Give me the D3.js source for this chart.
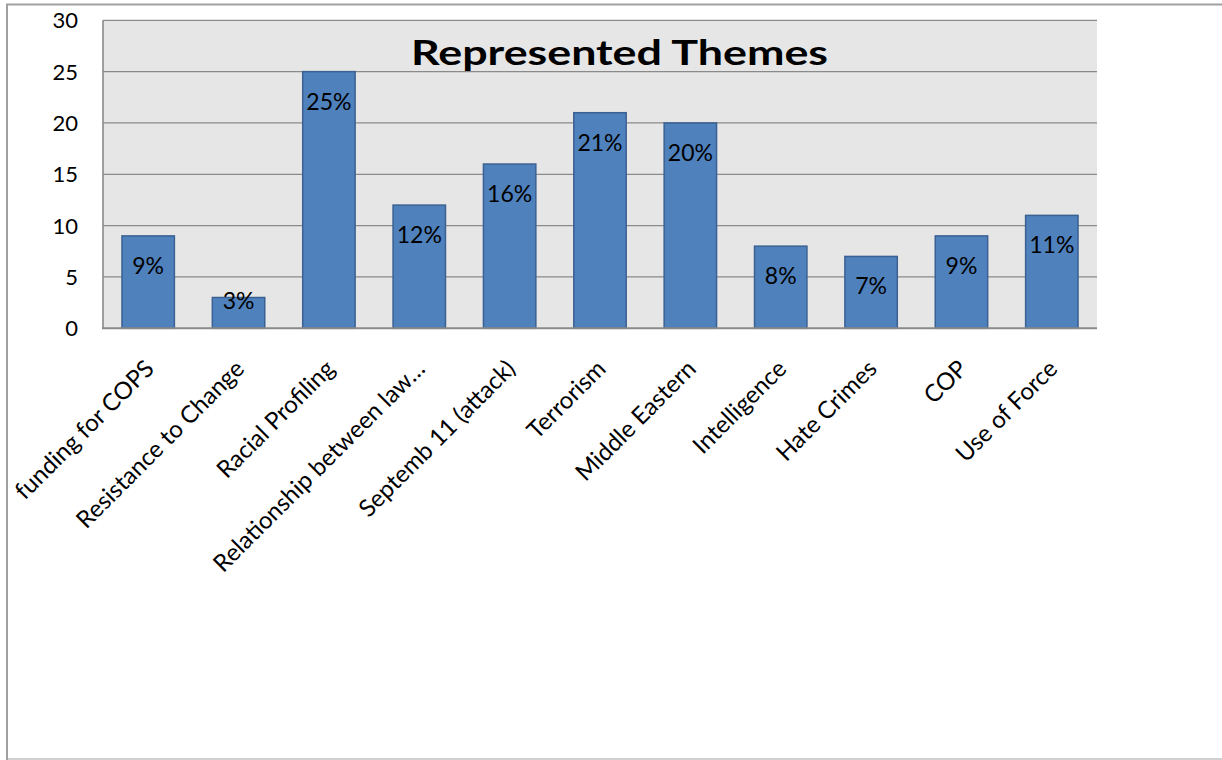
<!DOCTYPE html>
<html>
<head>
<meta charset="utf-8">
<script src="https://cdn.jsdelivr.net/npm/d3@7"></script>
<style>
  html, body { margin: 0; padding: 0; background: #ffffff; }
  svg { display: block; }
  text { font-family: Lato, "Open Sans", sans-serif; fill: #000; }
</style>
</head>
<body>
<svg id="chart" width="1222" height="760"></svg>
<script>
const categories = ["funding for COPS", "Resistance to Change", "Racial Profiling",
  "Relationship between law…", "Septemb 11 (attack)", "Terrorism", "Middle Eastern",
  "Intelligence", "Hate Crimes", "COP", "Use of Force"];
const values = [9, 3, 25, 12, 16, 21, 20, 8, 7, 9, 11];
const valueLabels = ["9%", "3%", "25%", "12%", "16%", "21%", "20%", "8%", "7%", "9%", "11%"];
const yTicks = [0, 5, 10, 15, 20, 25, 30];
const title = "Represented Themes";

const svg = d3.select("#chart");

// outer frame
svg.append("rect")
  .attr("x", 7).attr("y", 4.5).attr("width", 1240).attr("height", 754.5)
  .attr("fill", "none").attr("stroke", "#a0a0a0").attr("stroke-width", 2);
svg.append("line").attr("x1", 8).attr("x2", 1222).attr("y1", 759).attr("y2", 759)
  .attr("stroke", "#e2e2e2").attr("stroke-width", 1.5);

const plot = { left: 103, right: 1097, top: 20.3, bottom: 328.3 };

const x = d3.scaleBand().domain(categories).range([plot.left, plot.right])
  .paddingInner(0.42).paddingOuter(0.21);
const y = d3.scaleLinear().domain([0, 30]).range([plot.bottom, plot.top]);

// plot background
svg.append("rect")
  .attr("x", plot.left).attr("y", plot.top)
  .attr("width", plot.right - plot.left).attr("height", plot.bottom - plot.top)
  .attr("fill", "#e6e6e6");

// gridlines
svg.append("g").selectAll("line").data(yTicks.filter(t => t > 0)).join("line")
  .attr("x1", plot.left).attr("x2", plot.right)
  .attr("y1", d => y(d)).attr("y2", d => y(d))
  .attr("stroke", "#8a8a8a").attr("stroke-width", 1.3);

// y axis line
svg.append("line").attr("x1", plot.left).attr("x2", plot.left)
  .attr("y1", plot.top).attr("y2", plot.bottom)
  .attr("stroke", "#8a8a8a").attr("stroke-width", 1.6);

// y tick labels
svg.append("g").selectAll("text").data(yTicks).join("text")
  .attr("x", 78).attr("y", d => y(d)).attr("dy", "0.36em")
  .attr("text-anchor", "end").attr("font-size", 22)
  .text(d => d);

// bars
svg.append("g").selectAll("rect").data(values).join("rect")
  .attr("x", (d, i) => x(categories[i]))
  .attr("y", d => y(d))
  .attr("width", x.bandwidth())
  .attr("height", d => y(0) - y(d))
  .attr("fill", "#4f81bd")
  .attr("stroke", "#3b6192").attr("stroke-width", 1.5);

// x axis line
svg.append("line").attr("x1", plot.left - 1).attr("x2", plot.right)
  .attr("y1", plot.bottom).attr("y2", plot.bottom)
  .attr("stroke", "#8a8a8a").attr("stroke-width", 2);

// data labels
svg.append("g").selectAll("text").data(values).join("text")
  .attr("x", (d, i) => x(categories[i]) + x.bandwidth() / 2)
  .attr("y", d => Math.min(y(d) + 38, y(0) - 19))
  .attr("text-anchor", "middle").attr("font-size", 23)
  .text((d, i) => valueLabels[i]);

// x labels rotated
svg.append("g").selectAll("text").data(categories).join("text")
  .attr("transform", d => `translate(${x(d) + x.bandwidth() / 2 - 5},358) rotate(-45)`)
  .attr("dy", "0.72em")
  .attr("text-anchor", "end").attr("font-size", 24)
  .text(d => d);

// title
svg.append("text")
  .attr("x", 619.5).attr("y", 65)
  .attr("text-anchor", "middle").attr("font-size", 35).attr("font-weight", "bold")
  .attr("textLength", 417).attr("lengthAdjust", "spacingAndGlyphs")
  .text(title);
</script>
</body>
</html>
